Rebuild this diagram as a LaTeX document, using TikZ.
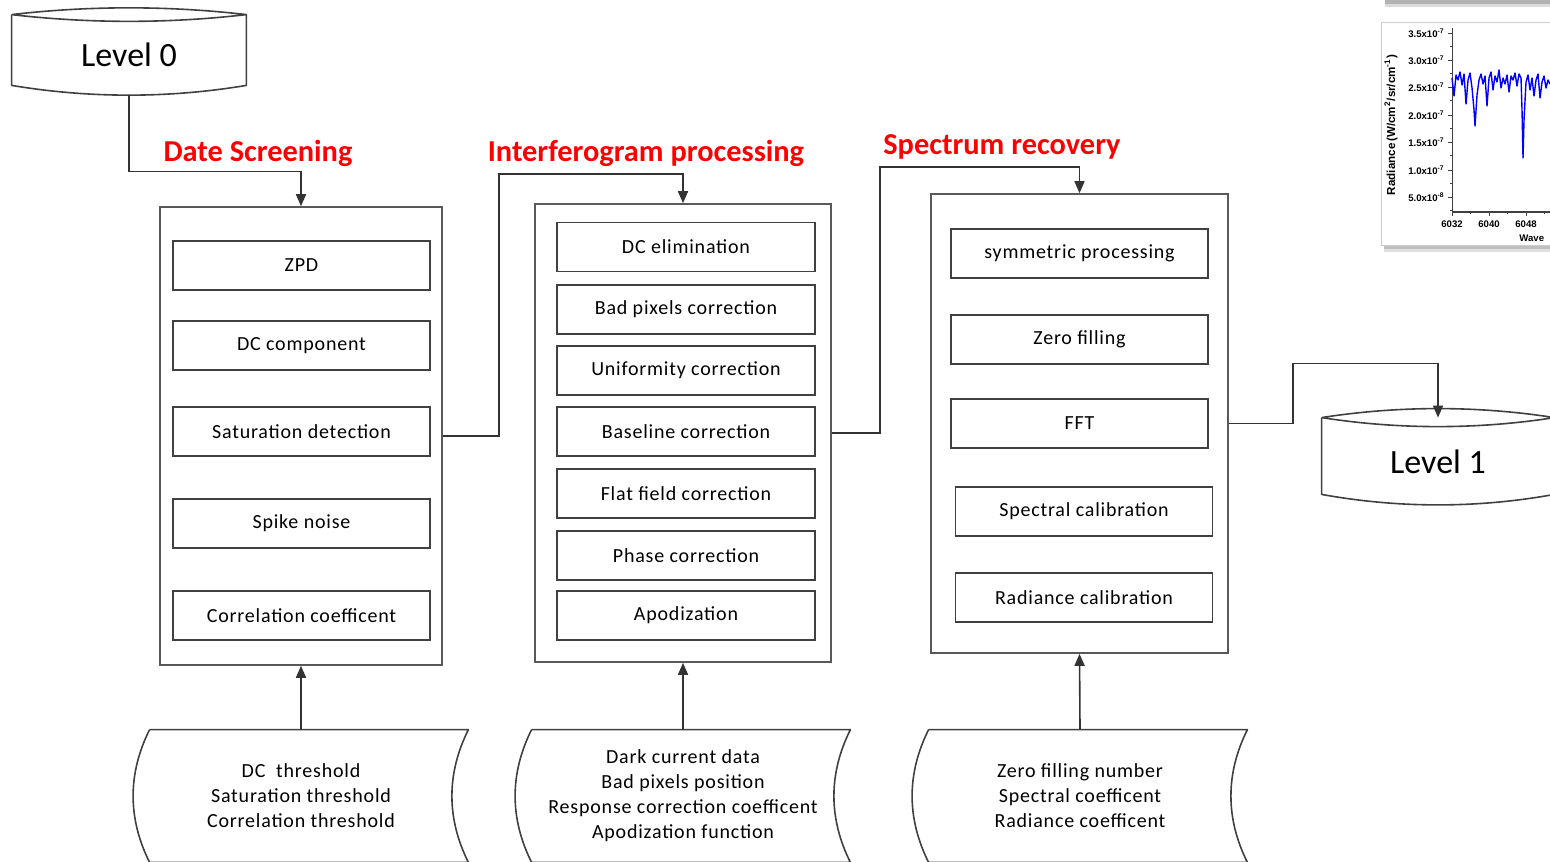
\documentclass[tikz,border=0pt]{standalone}
\usepackage{fontspec}
\setmainfont{Carlito}
\setsansfont{Liberation Sans}
\usetikzlibrary{arrows.meta}

\begin{document}
\begin{tikzpicture}[x=0.5pt,y=-0.5pt,
  stepbox/.style={draw=black!75,line width=0.8pt,minimum width=128.5pt,minimum height=24.5pt,inner sep=0pt,font=\fontsize{10}{11}\selectfont\addfontfeature{LetterSpace=4}},
  groupbox/.style={draw=black!65,line width=0.8pt,inner sep=0pt},
  stage/.style={text=red,font=\bfseries\fontsize{15.2}{17}\selectfont,inner sep=0pt},
  store/.style={inner sep=0pt,font=\fontsize{17}{19}\selectfont},
  param/.style={inner sep=0pt,minimum width=159pt,minimum height=66pt,align=center,font=\fontsize{10}{12.5}\selectfont\addfontfeature{LetterSpace=4}},
  outline/.style={draw=black!75,line width=0.8pt,line join=round},
  flow/.style={draw=black!80,line width=0.8pt,-{Triangle[length=6pt,width=5pt]}},
  ticklab/.style={font=\sffamily\bfseries\fontsize{4.8}{5}\selectfont,inner sep=0pt}]

\useasboundingbox (0,0) rectangle (1550,861);

% levels
\node[store,minimum width=117pt,minimum height=40pt] (lv0) at (129,55) {Level 0};
\draw[outline] (lv0.north west) .. controls +(78,-9) and +(-78,-9) .. (lv0.north east) .. controls +(-78,9) and +(78,9) .. (lv0.north west);
\draw[outline] (lv0.north west) -- ([yshift=5pt]lv0.south west) .. controls +(78,13) and +(-78,13) .. ([yshift=5pt]lv0.south east) -- (lv0.north east);

\node[store,minimum width=116pt,minimum height=43.5pt] (lv1) at (1438,461.5) {Level 1};
\draw[outline] (lv1.north west) .. controls +(77,-12) and +(-77,-12) .. (lv1.north east) .. controls +(-77,12) and +(77,12) .. (lv1.north west);
\draw[outline] (lv1.north west) -- ([yshift=5.5pt]lv1.south west) .. controls +(77,14) and +(-77,14) .. ([yshift=5.5pt]lv1.south east) -- (lv1.north east);

% stage titles
\node[stage] (t1) at (258,153) {Date Screening};
\node[stage] (t2) at (646,153) {Interferogram processing};
\node[stage] (t3) at (1002,147) {Spectrum recovery};

% groups
\node[groupbox,minimum width=141pt,minimum height=229pt] (g1) at (301,436) {};
\node[groupbox,minimum width=148pt,minimum height=229pt] (g2) at (683,433) {};
\node[groupbox,minimum width=148.5pt,minimum height=229.5pt] (g3) at (1079.5,423.5) {};

% data screening
\node[stepbox] (zpd) at (301.5,265.5) {ZPD};
\node[stepbox] (dcc) at (301.5,345.5) {DC component};
\node[stepbox] (sat) at (301.5,431.5) {Saturation detection};
\node[stepbox] (spk) at (301.5,523.5) {Spike noise};
\node[stepbox] (cor) at (301.5,615.5) {Correlation coefficent};

% interferogram processing
\node[stepbox,minimum width=129pt] (dce) at (686,247) {DC elimination};
\node[stepbox,minimum width=129pt] (bad) at (686,309.5) {Bad pixels correction};
\node[stepbox,minimum width=129pt] (uni) at (686,370.5) {Uniformity correction};
\node[stepbox,minimum width=129pt] (bas) at (686,431.5) {Baseline correction};
\node[stepbox,minimum width=129pt] (flt) at (686,493.5) {Flat field correction};
\node[stepbox,minimum width=129pt] (pha) at (686,555.5) {Phase correction};
\node[stepbox,minimum width=129pt] (apo) at (686,615.5) {Apodization};

% spectrum recovery
\node[stepbox] (sym) at (1079.5,253.5) {symmetric processing};
\node[stepbox] (zero) at (1079.5,339.5) {Zero filling};
\node[stepbox] (fft) at (1079.5,423.5) {FFT};
\node[stepbox] (spc) at (1084,511.5) {Spectral calibration};
\node[stepbox] (rad) at (1084,597.5) {Radiance calibration};

% parameters
\node[param] (p1) at (301,796) {DC\ \ threshold\\Saturation threshold\\Correlation threshold};
\node[param] (p2) at (683,796) {Dark current data\\Bad pixels position\\Response correction coefficent\\Apodization function};
\node[param] (p3) at (1080,796) {Zero filling number\\Spectral coefficent\\Radiance coefficent};
\foreach \p in {p1,p2,p3}
  \draw[outline] ([xshift=4pt]\p.north west) -- ([xshift=4pt]\p.north east) .. controls +(-22,44) and +(-22,-44) .. ([xshift=4pt]\p.south east) -- ([xshift=4pt]\p.south west) .. controls +(-22,-44) and +(-22,44) .. ([xshift=4pt]\p.north west);

% flow
\draw[flow] (lv0.south) -- ++(0,76) -| (g1.north);
\draw[flow] (g1.east) -- ++(56,0) -- ++(0,-262) -| (g2.north);
\draw[flow] (g2.east) -- ++(48,0) -- ++(0,-266) -| (g3.north);
\draw[flow] (g3.east) -- ++(64,0) -- ++(0,-60) -| (lv1.north);
\draw[flow] (p1.north) -- (g1.south);
\draw[flow] (p2.north) -- (g2.south);
\draw[flow] (p3.north) -- (g3.south);

% spectrum inset
\fill[black!30] (1385,0) rectangle (1560,4);
\fill[black!14] (1385,4) rectangle (1560,7);
\fill[black!25] (1384,245) rectangle (1560,249);
\fill[black!12] (1384,249) rectangle (1560,252);
\draw[black!20,fill=white] (1381,22) rectangle (1560,245);
\draw[black!75,line width=0.5pt] (1452,28) -- (1452,212) -- (1560,212);
\foreach \v/\e/\y [count=\i] in {3.5/7/33,3.0/7/60,2.5/7/87,2.0/7/115,1.5/7/142,1.0/7/170,5.0/8/197}{
  \draw[black!75,line width=0.4pt] (1452,\y) -- ++(-4,0) (1452,\y+13.7) -- ++(-2,0);
  \node[ticklab,anchor=east] (yt\i) at (1445,\y) {\v x10\textsuperscript{-\e}};
}
\foreach \w/\x [count=\i] in {6032/1452,6040/1489,6048/1526}{
  \draw[black!75,line width=0.4pt] (\x,212) -- ++(0,4) (\x+18.5,212) -- ++(0,2);
  \node[ticklab] (xt\i) at (\x,224) {\w};
}
\node[ticklab,anchor=west] (xlab) at (1519,238) {Wave};
\node[ticklab,rotate=90,font=\sffamily\bfseries\fontsize{5.8}{6}\selectfont] (ylab) at (1391,125) {Radiance\,(W/cm\textsuperscript{2}/sr/cm\textsuperscript{-1})};
\draw[blue,line width=0.7pt,line join=round] plot coordinates {(1452,78) (1454,96) (1456,75) (1458,80) (1460,72) (1462,85) (1464,74) (1466,104) (1468,80) (1470,73) (1472,88) (1474,110) (1475,126) (1477,95) (1479,80) (1481,74) (1483,84) (1485,76) (1487,106) (1489,78) (1491,72) (1493,90) (1495,76) (1497,82) (1499,70) (1501,88) (1503,78) (1505,84) (1507,75) (1509,92) (1511,76) (1513,80) (1515,73) (1517,86) (1519,74) (1521,78) (1522,110) (1523,158) (1524,120) (1526,82) (1528,75) (1530,90) (1532,78) (1534,96) (1536,80) (1538,74) (1540,98) (1542,82) (1544,76) (1546,88) (1548,80) (1550,84)};
\end{tikzpicture}
\end{document}
